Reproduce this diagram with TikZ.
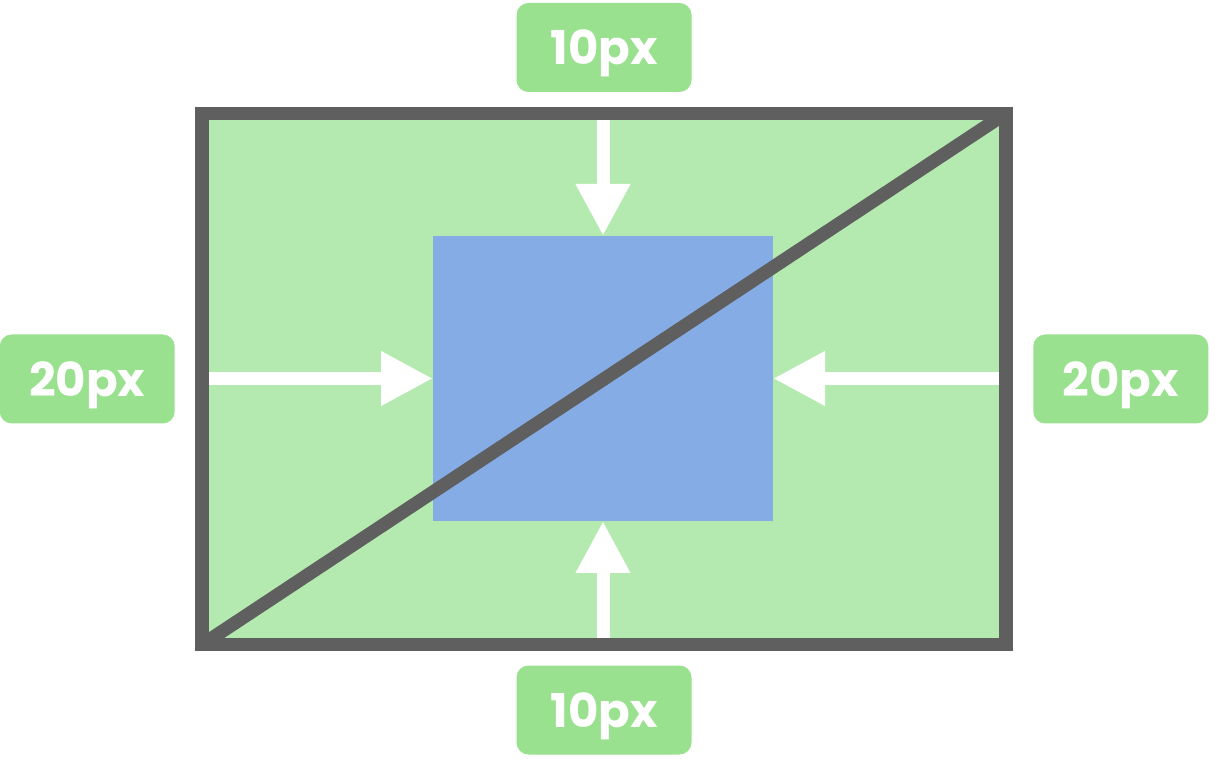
\documentclass[tikz,border=0pt]{standalone}
\usepackage{fontspec}
\usepackage{xcolor}
\usepackage{tikz}
\usetikzlibrary{positioning, arrows.meta}
\newfontfamily\popfont{Poppins}
\definecolor{framegray}{HTML}{5F5F5F}
\definecolor{areagreen}{HTML}{B4EAB0}
\definecolor{taggreen}{HTML}{99E18F}
\definecolor{boxblue}{HTML}{86ACE6}

\begin{document}
\begin{tikzpicture}[x=0.75pt, y=-0.75pt,
  tag/.style={fill=taggreen, rounded corners=9pt, minimum width=131.25pt,
    minimum height=66.75pt, inner sep=0pt, text depth=0pt, text=white,
    font=\popfont\bfseries\fontsize{35}{35}\selectfont},
  push/.style={white, line width=9.75pt, shorten <=5pt, -{Triangle[width=38.25pt, length=39pt]}}]
  \useasboundingbox (0,0) rectangle (1222,762);
  \node[fill=areagreen, draw=framegray, line width=10pt, outer sep=0pt,
        minimum width=603pt, minimum height=398.6pt] (frame) at (604,379) {};
  \node[fill=boxblue, outer sep=0pt, minimum width=255pt, minimum height=213.75pt] (box) at (603,378.5) {};
  \draw[framegray, line width=10pt] (frame.south west) -- (frame.north east);
  % padding arrows
  \draw[push] (frame.north -| box.north) -- (box.north);
  \draw[push] (frame.south -| box.south) -- (box.south);
  \draw[push] (frame.west |- box.west) -- (box.west);
  \draw[push] (frame.east |- box.east) -- (box.east);
  % labels
  \node[tag, above=15.75pt of frame] (top) {10px};
  \node[tag, below=15.4pt of frame] (bottom) {10px};
  \node[tag, left=20.25pt of frame] (left) {20px};
  \node[tag, right=20.25pt of frame] (right) {20px};
\end{tikzpicture}
\end{document}
